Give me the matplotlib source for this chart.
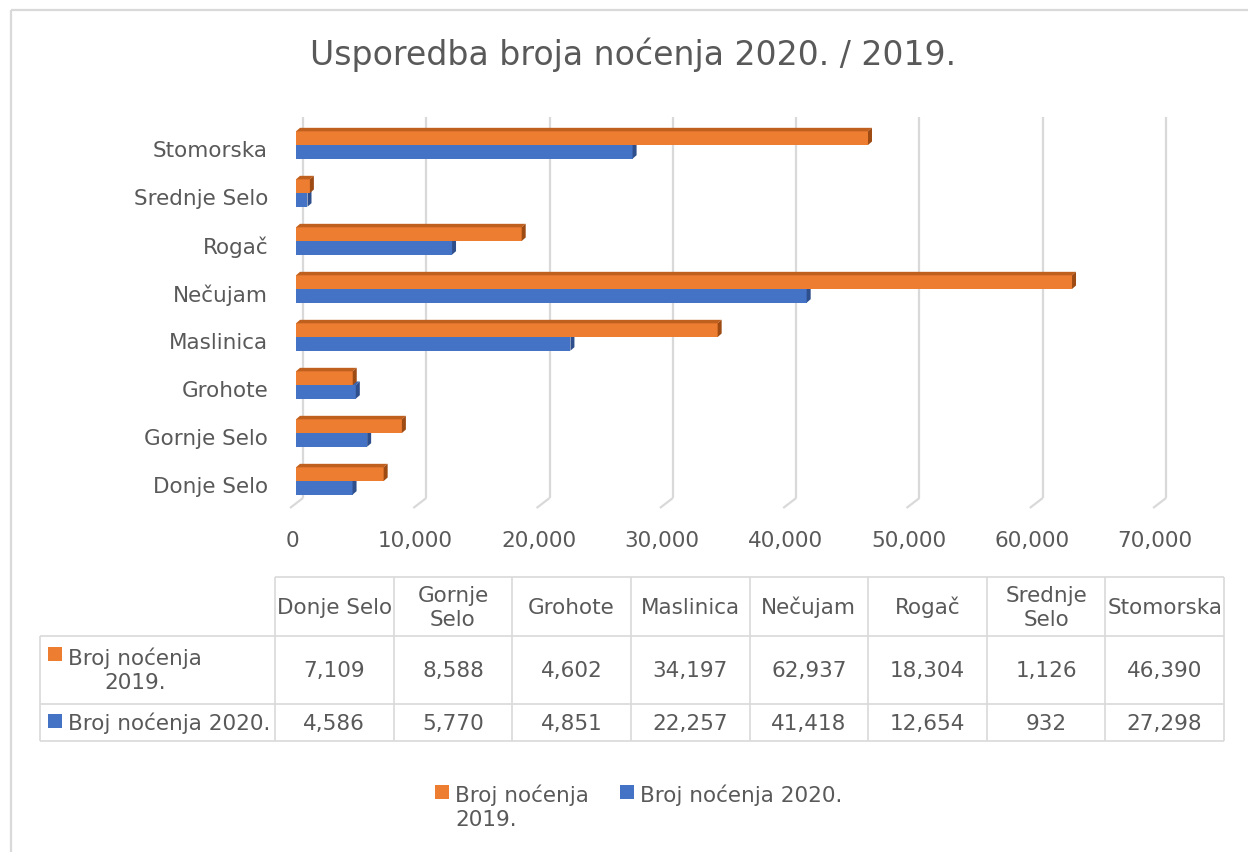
import matplotlib
matplotlib.use("Agg")
import matplotlib.pyplot as plt
from matplotlib.patches import Polygon, Rectangle
import textwrap

# ---------------- data ----------------
categories = ["Donje Selo", "Gornje Selo", "Grohote", "Maslinica",
              "Nečujam", "Rogač", "Srednje Selo", "Stomorska"]
nights_2019 = [7109, 8588, 4602, 34197, 62937, 18304, 1126, 46390]
nights_2020 = [4586, 5770, 4851, 22257, 41418, 12654, 932, 27298]
series_2019 = "Broj noćenja 2019."
series_2020 = "Broj noćenja 2020."
x_ticks = [0, 10000, 20000, 30000, 40000, 50000, 60000, 70000]
title = "Usporedba broja noćenja 2020. / 2019."

# ---------------- style ----------------
ORANGE, ORANGE_TOP, ORANGE_SIDE = "#ED7D31", "#C0601F", "#9E4A13"
BLUE, BLUE_TOP, BLUE_SIDE = "#4472C4", "#3A63AD", "#2E4F8C"
GRID = "#D9D9D9"
TXT = "#595959"
FS = 15.5
plt.rcParams["font.family"] = ["DejaVu Sans"]

W, H = 1248, 852
fig = plt.figure(figsize=(W / 100, H / 100), dpi=100)
fig.patch.set_facecolor("white")


def fx(px):
    return px / W


def fy(py):
    return 1 - py / H


# main plotting axes: front plane 0 at x=296 px, 70,000 at 1159 px
ax = fig.add_axes([fx(296), fy(508), (1159.1 - 296) / W, (508 - 117) / H])
ax.set_xlim(0, 70000)
ax.set_ylim(-0.5625, 7.5833)
ax.axis("off")

p0 = ax.transData.transform((0, 0))
p1 = ax.transData.transform((1, 1))
ux = p1[0] - p0[0]
uy = p1[1] - p0[1]


def dx(px):
    return px / ux


def dy(px):
    return px / uy


y_bot, y_top = ax.get_ylim()
back_bottom = y_bot + dy(10)

# gridlines on back wall with floor diagonal
for t in x_ticks:
    ax.plot([t + dx(7), t + dx(7)], [back_bottom, y_top], color=GRID, lw=1.6,
            clip_on=False, zorder=1, solid_capstyle="butt")
    ax.plot([t + dx(7), t - dx(6)], [back_bottom, y_bot], color=GRID, lw=1.6,
            clip_on=False, zorder=1, solid_capstyle="butt")
    ax.text(t - dx(4), y_bot - dy(33), f"{t:,}", ha="center", va="center",
            fontsize=FS, color=TXT)

idx = list(range(len(categories)))
h = 0.285
d_x, d_y = dx(4), dy(3.5)


def draw_3d(vals, centers, face, top_c, side_c, z):
    ax.barh(centers, vals, height=h, color=face, zorder=z, linewidth=0)
    for v, c in zip(vals, centers):
        top, bot = c + h / 2, c - h / 2
        ax.add_patch(Polygon([(0, top), (d_x, top + d_y), (v + d_x, top + d_y), (v, top)],
                             closed=True, facecolor=top_c, edgecolor="none",
                             zorder=z + 0.2, clip_on=False))
        ax.add_patch(Polygon([(v, bot), (v, top), (v + d_x, top + d_y), (v + d_x, bot + d_y)],
                             closed=True, facecolor=side_c, edgecolor="none",
                             zorder=z + 0.3, clip_on=False))


draw_3d(nights_2020, [i - h / 2 for i in idx], BLUE, BLUE_TOP, BLUE_SIDE, 2)
draw_3d(nights_2019, [i + h / 2 for i in idx], ORANGE, ORANGE_TOP, ORANGE_SIDE, 3)

for i, cat in zip(idx, categories):
    ax.text(-dx(28), i - dy(6), cat, ha="right", va="center", fontsize=FS, color=TXT)

# ---------------- overlay in pixel coordinates ----------------
ov = fig.add_axes([0, 0, 1, 1])
ov.set_xlim(0, W)
ov.set_ylim(H, 0)
ov.axis("off")
ov.patch.set_visible(False)

# outer chart border (partially visible)
ov.plot([11, 11], [10, H], color=GRID, lw=1.6, solid_capstyle="butt")
ov.plot([11, W], [10, 10], color=GRID, lw=1.6, solid_capstyle="butt")

ov.text(633, 55, title, ha="center", va="center", fontsize=23.9, color=TXT)

# data table
left_col, x0, x1 = 40, 275, 1224
n = len(categories)
cw = (x1 - x0) / n
r0, r1, r2, r3 = 577, 636, 704, 741
tl = dict(color=GRID, lw=1.2, solid_capstyle="butt")
ov.plot([x0, x1], [r0, r0], **tl)
for r in (r1, r2, r3):
    ov.plot([left_col, x1], [r, r], **tl)
ov.plot([left_col, left_col], [r1, r3], **tl)
for k in range(n + 1):
    ov.plot([x0 + k * cw, x0 + k * cw], [r0, r3], **tl)

for k, cat in enumerate(categories):
    cx = x0 + (k + 0.5) * cw
    ov.text(cx, (r0 + r1) / 2 + 1, textwrap.fill(cat, 10), ha="center", va="center",
            fontsize=FS, color=TXT, linespacing=1.25)
    ov.text(cx, (r1 + r2) / 2 + 1, f"{nights_2019[k]:,}", ha="center", va="center",
            fontsize=FS, color=TXT)
    ov.text(cx, (r2 + r3) / 2 + 1, f"{nights_2020[k]:,}", ha="center", va="center",
            fontsize=FS, color=TXT)

ov.add_patch(Rectangle((48, 647), 14, 14, facecolor=ORANGE, edgecolor="none"))
ov.text(68, 670, textwrap.fill(series_2019, 13), ha="left", va="center",
        multialignment="center", fontsize=FS, color=TXT, linespacing=1.25)
ov.add_patch(Rectangle((48, 714), 14, 14, facecolor=BLUE, edgecolor="none"))
ov.text(68, 723, series_2020, ha="left", va="center", fontsize=FS, color=TXT)

# legend
ov.add_patch(Rectangle((435, 785), 14, 14, facecolor=ORANGE, edgecolor="none"))
ov.text(455, 784, textwrap.fill(series_2019, 13), ha="left", va="top",
        fontsize=FS, color=TXT, linespacing=1.25)
ov.add_patch(Rectangle((620, 785), 14, 14, facecolor=BLUE, edgecolor="none"))
ov.text(640, 784, series_2020, ha="left", va="top", fontsize=FS, color=TXT)

fig.savefig("out.png", dpi=100, facecolor="white")
